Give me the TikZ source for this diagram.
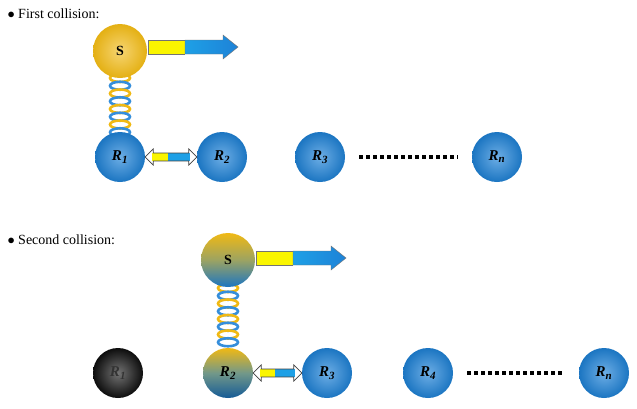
\documentclass[tikz,border=0pt]{standalone}
\usepackage{fontspec}
\setmainfont{Liberation Serif}
\usetikzlibrary{calc}
\definecolor{bblue}{RGB}{30,130,215}
\definecolor{byel}{RGB}{240,185,20}
\definecolor{ayel}{RGB}{250,245,0}
\definecolor{ablue}{RGB}{30,160,230}
\newcommand{\sub}[1]{$_{\mbox{\fontsize{11}{11}\selectfont\bfseries #1}}$}
\tikzset{
 ball/.style={circle,inner sep=0pt,minimum size=50pt,inner color=bblue!65!white,outer color=bblue!90!black,font=\bfseries\itshape\fontsize{15}{15}\selectfont},
 yball/.style={ball,inner color=byel!60!white,outer color=byel!95!black,minimum size=54pt,font=\bfseries\fontsize{14}{14}\selectfont},
 mball/.style={ball,top color=byel,bottom color=bblue!70!black,middle color=bblue!60!byel},
 kball/.style={ball,inner color=black!55,outer color=black!95,text=black!80},
 lbl/.style={anchor=west,font=\fontsize{14}{14}\selectfont},
 dots/.style={line width=3.5pt,dash pattern=on 3.5pt off 3.5pt},
 coilY/.style={draw=byel,line width=2.6pt},
 coilB/.style={draw=bblue!90,line width=2.6pt},
}
\newcommand{\coil}[3]{% x, ytop, ybottom
 \foreach \k in {0,...,7}{
  \pgfmathsetmacro{\yy}{#2+\k*((#3)-(#2))/8+4}
  \ifodd\k \draw[coilB] (#1,\yy) ellipse[x radius=10,y radius=4];
  \else \draw[coilY] (#1,\yy) ellipse[x radius=10,y radius=4];\fi}}
\newcommand{\bigarrow}[2]{% x start, y
 \fill[ayel] (#1,#2-7) rectangle (#1+37,#2+7);
 \draw[black!55,left color=ablue,right color=bblue] (#1+37,#2-7) -- (#1+75,#2-7) -- (#1+75,#2-12) -- (#1+90,#2) -- (#1+75,#2+12) -- (#1+75,#2+7) -- (#1+37,#2+7) -- cycle;
 \draw[black!55] (#1+37,#2-7) -- (#1,#2-7) -- (#1,#2+7) -- (#1+37,#2+7);}
\newcommand{\dblarrow}[2]{% from node, to node
 \path (#1.east) coordinate (da) (#2.west) coordinate (db);
 \fill[ayel] ($(da)+(7,-4)$) rectangle ($(da)!0.45!(db)+(0,4)$);
 \fill[ablue] ($(da)!0.45!(db)+(0,-4)$) rectangle ($(db)+(-7,4)$);
 \draw[black!75,line width=0.7pt] (da) -- ++(8,-8) -- ++(0,4) -- ($(db)+(-8,-4)$) -- ++(0,-4) -- (db) -- ++(-8,8) -- ++(0,-4) -- ($(da)+(8,4)$) -- ++(0,4) -- cycle;}
\begin{document}
\begin{tikzpicture}[x=1pt,y=-1pt]
\useasboundingbox (0,0) rectangle (637,408);
\node[lbl] (t1) at (4,14) {$\bullet$ First collision:};
\coil{120}{74}{136}
\node[yball] (S1) at (120,51) {S};
\bigarrow{148}{47}
\node[ball] (R11) at (120,157) {R\sub{1}};
\node[ball] (R12) at (222,157) {R\sub{2}};
\node[ball] (R13) at (320,157) {R\sub{3}};
\node[ball] (R1n) at (497,157) {R\sub{\itshape n}};
\path (R13.east) ++(14,0) coordinate (d1) (R1n.west) ++(-14,0) coordinate (d2);
\draw[dots] (d1) -- (d2);
\dblarrow{R11}{R12}
\node[lbl] (t2) at (4,240) {$\bullet$ Second collision:};
\coil{228}{284}{346}
\node[yball,top color=byel,bottom color=bblue!90!black,middle color=byel!60!bblue] (S2) at (228,260) {S};
\bigarrow{256}{258}
\node[kball] (R21) at (118,373) {R\sub{1}};
\node[mball] (R22) at (228,373) {R\sub{2}};
\node[ball] (R23) at (327,373) {R\sub{3}};
\node[ball] (R24) at (428,373) {R\sub{4}};
\node[ball] (R2n) at (604,373) {R\sub{\itshape n}};
\path (R24.east) ++(14,0) coordinate (e1) (R2n.west) ++(-14,0) coordinate (e2);
\draw[dots] (e1) -- (e2);
\dblarrow{R22}{R23}
\end{tikzpicture}
\end{document}
